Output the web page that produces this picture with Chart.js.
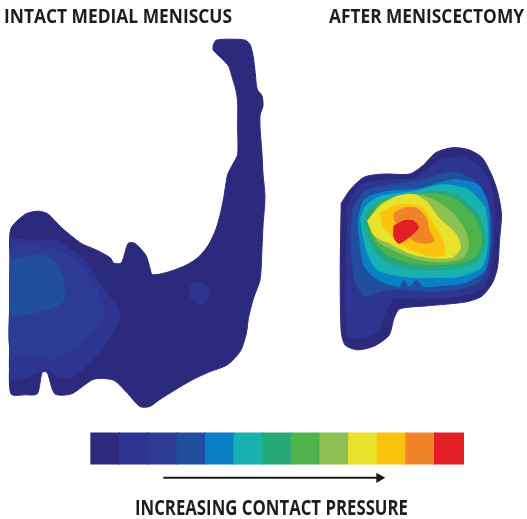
<!DOCTYPE html>
<html>
<head>
<meta charset="utf-8">
<script src="https://cdn.jsdelivr.net/npm/chart.js@4.4.1/dist/chart.umd.min.js"></script>
<style>
  html, body { margin: 0; padding: 0; background: #fff; }
  #wrap { position: relative; width: 527px; height: 519px; overflow: hidden; }
  #wrap canvas { position: absolute; left: 0; top: 0; }
  .lbl { position: absolute; white-space: nowrap; font-family: 'Open Sans', sans-serif; font-weight: 700;
         color: #1d1d1d; line-height: 1; transform-origin: 0 0; }
</style>
</head>
<body>
<div id="wrap">
  <canvas id="chMeniscus" width="527" height="519"></canvas>
  <div class="lbl" id="tIntact">INTACT MEDIAL MENISCUS</div>
  <div class="lbl" id="tAfter">AFTER MENISCECTOMY</div>
  <div class="lbl" id="tScale">INCREASING CONTACT PRESSURE</div>
</div>
<script>
/* Mappa di pressione di contatto: menisco integro vs dopo meniscectomia.
 * Coordinate dei contorni nel riferimento della figura (x → destra, y → giù),
 * passate alle scale lineari di Chart.js. */

// livelli della scala colori (dal più basso al più alto)
const levelColors = ['#2c2a7c', '#2e3590', '#2c3c96', '#214e9e', '#0b80c6', '#17b1b1', '#26a878',
                     '#4fb34c', '#8dc153', '#e8e22b', '#fbc30e', '#ef8429', '#e31f25'];

// menisco integro
const intactL0 = [[212,40],[215,35],[230,34],[245,35],[250,40],[253,52],[255,68],[257,85],[262,92],[263,102],
  [260,112],[260,125],[262,152],[263,172],[265,195],[263,225],[262,247],[260,280],[253,300],[248,320],[246,335],
  [240,353],[227,367],[207,375],[190,383],[173,393],[157,403],[147,410],[137,410],[123,395],[110,383],[90,382],
  [67,397],[50,397],[42,375],[37,375],[32,397],[20,398],[5,397],[4,355],[4,300],[4,260],[5,228],[20,213],[33,210],
  [43,213],[57,227],[77,243],[93,250],[107,258],[110,263],[118,263],[125,243],[132,243],[143,255],[147,267],
  [150,275],[167,272],[185,265],[197,257],[207,245],[215,228],[220,210],[223,195],[225,182],[227,172],[232,162],
  [237,152],[237,125],[237,98],[235,85],[232,75],[228,62],[222,55],[212,45]];
const intactL1 = [[5,237],[27,240],[50,240],[70,252],[83,263],[93,280],[110,303],[117,317],[110,333],[97,353],
  [83,367],[67,380],[53,380],[43,372],[32,375],[20,380],[5,382],[4,340],[4,280]];
const intactL2 = [[5,248],[23,245],[50,250],[67,258],[82,272],[93,290],[100,313],[93,330],[80,343],[67,353],
  [47,362],[27,357],[5,355],[4,300]];
const intactL3 = [[5,260],[20,257],[37,255],[50,262],[58,278],[60,300],[53,307],[33,313],[10,317],[5,315],[4,288]];
const intactSpot = [[190,285],[200,283],[207,290],[207,300],[200,306],[190,300],[187,292]];

// dopo meniscectomia
const resectL0 = [[343,202],[353,187],[367,175],[387,172],[413,172],[427,163],[440,150],[457,145],[473,147],
  [487,155],[497,173],[503,190],[507,213],[505,240],[503,267],[498,283],[487,297],[470,303],[430,307],[403,310],
  [397,320],[392,337],[377,348],[360,352],[347,347],[343,333],[342,270]];
const resectL1 = [[350,203],[363,183],[390,178],[417,177],[430,168],[447,157],[470,155],[487,167],[497,187],
  [500,213],[498,247],[495,273],[487,290],[463,297],[430,300],[397,300],[387,317],[380,333],[363,340],[350,337],[348,273]];
const resectL3 = [[355,207],[367,190],[397,183],[430,177],[457,170],[477,177],[490,193],[497,220],[495,257],
  [487,280],[463,290],[430,292],[397,290],[380,293],[367,297],[357,280],[353,240]];
const resectL4 = [[360,220],[367,198],[390,190],[423,187],[457,178],[483,183],[493,203],[495,240],[490,270],
  [470,283],[437,287],[427,287],[420,280],[413,287],[407,280],[402,287],[380,280],[367,267],[362,240]];
const resectL5 = [[363,217],[368,205],[383,195],[417,190],[447,183],[473,188],[490,207],[493,240],[487,267],
  [463,277],[430,278],[407,277],[380,270],[370,253],[365,233]];
const resectL6 = [[367,220],[373,207],[390,197],[417,193],[440,190],[463,195],[483,213],[490,240],[483,260],
  [463,268],[430,270],[403,267],[383,257],[372,240]];
const resectL7 = [[370,220],[380,205],[397,197],[417,193],[440,192],[460,198],[480,217],[487,240],[480,257],
  [463,263],[437,265],[410,262],[388,253],[375,237]];
const resectL8 = [[372,218],[383,203],[400,195],[420,193],[437,198],[457,212],[470,230],[473,247],[467,258],
  [443,262],[417,258],[397,250],[380,240]];
const resectL9 = [[370,220],[383,205],[400,195],[417,193],[430,200],[443,217],[460,233],[465,247],[457,257],
  [437,258],[413,253],[393,243],[377,235]];
const resectL10 = [[383,212],[397,205],[410,203],[427,207],[437,223],[447,240],[448,255],[430,255],[410,247],
  [397,237],[387,227]];
const resectL11 = [[397,212],[407,207],[420,207],[430,217],[433,230],[438,240],[430,243],[417,240],[407,230],[398,220]];
const resectL12 = [[397,225],[407,220],[417,220],[422,227],[412,237],[402,243],[397,237]];

// [livello colore, contorno] dal fondo verso l'alto
const layers = [
  [0, intactL0], [1, intactL1], [2, intactL2], [3, intactL3], [1, intactSpot],
  [0, resectL0], [1, resectL1], [3, resectL3], [4, resectL4], [5, resectL5], [6, resectL6],
  [7, resectL7], [8, resectL8], [9, resectL9], [10, resectL10], [11, resectL11], [12, resectL12]
];

// freccia sotto la barra colori
const arrowPts = [[161,483],[382,483]];

const FIG_W = 527, FIG_H = 519;
const BAR_LEFT = 87, BAR_RIGHT = 468, BAR_TOP = 437, BAR_BOTTOM = 469;

function layerDs(colorIdx, pts, order) {
  const closed = pts.concat([pts[0]]);
  return {
    type: 'line', order,
    data: closed.map(p => ({ x: p[0], y: p[1] })),
    backgroundColor: levelColors[colorIdx], borderColor: levelColors[colorIdx],
    borderWidth: 1, fill: 'shape', tension: 0.25, pointRadius: 0
  };
}

const datasets = layers.map(([c, pts], i) => layerDs(c, pts, layers.length - i + 2));

// barra colori: un segmento per livello, affiancati senza spazi
const segW = (BAR_RIGHT - BAR_LEFT) / levelColors.length;
datasets.push({
  type: 'bar', order: 1,
  data: levelColors.map((c, i) => ({ x: BAR_LEFT + (i + 0.5) * segW, y: [BAR_TOP, BAR_BOTTOM] })),
  backgroundColor: levelColors, borderWidth: 0,
  barThickness: segW, grouped: false
});

datasets.push({
  type: 'line', order: 0,
  data: arrowPts.map(p => ({ x: p[0], y: p[1] })),
  borderColor: '#1a1a1a', borderWidth: 2, fill: false, tension: 0,
  pointRadius: [0, 6], pointStyle: 'triangle', pointRotation: 90,
  pointBackgroundColor: '#1a1a1a', pointBorderColor: '#1a1a1a', pointBorderWidth: 0
});

new Chart(document.getElementById('chMeniscus'), {
  type: 'line',
  data: { datasets },
  options: {
    responsive: false, animation: false, devicePixelRatio: 1,
    layout: { padding: 0 },
    plugins: { legend: { display: false }, tooltip: { enabled: false } },
    scales: {
      x: { type: 'linear', display: false, min: 0, max: FIG_W, offset: false, bounds: 'data' },
      y: { type: 'linear', display: false, min: 0, max: FIG_H, reverse: true, bounds: 'data' }
    }
  }
});

/* Etichette: Open Sans bold, compressa in orizzontale fino alla larghezza del riferimento. */
function fitLabel(id, left, capTop, width, fs) {
  const el = document.getElementById(id);
  el.style.fontSize = fs + 'px';
  el.style.left = left + 'px';
  el.style.top = (capTop - 0.174 * fs) + 'px';
  const w = el.getBoundingClientRect().width;
  el.style.transform = 'scaleX(' + (width / w) + ')';
}
fitLabel('tIntact', 4, 9, 228, 19.5);
fitLabel('tAfter', 329, 9, 195, 19.5);
fitLabel('tScale', 135, 501, 273, 20.5);
</script>
</body>
</html>
